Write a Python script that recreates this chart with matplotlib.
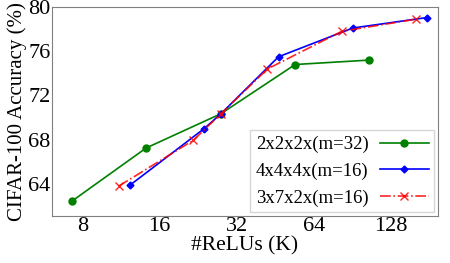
import numpy as np
import matplotlib
matplotlib.use("Agg")
import matplotlib.pyplot as plt

# data (x in K ReLUs, y in %)
relus_222 = [7.3, 14.2, 27.8, 54.1, 105.4]
acc_222 = [62.45, 67.25, 70.35, 74.8, 75.2]

relus_444 = [12.3, 23.9, 27.8, 46.6, 90.8, 177]
acc_444 = [63.9, 69.0, 70.35, 75.5, 78.1, 79.05]

relus_372 = [11.1, 21.7, 27.8, 42.2, 82.2, 160]
acc_372 = [63.8, 67.95, 70.35, 74.4, 77.8, 78.9]

xticks = [8, 16, 32, 64, 128]
yticks = [64, 68, 72, 76, 80]

plt.rcParams['font.family'] = ['Liberation Serif', 'DejaVu Serif']
plt.rcParams['font.size'] = 16

fig = plt.figure(figsize=(4.5, 2.63), dpi=100)
ax = fig.add_axes([52/450, 1 - 216/263, (438-52)/450, (216-7)/263])

ax.plot(relus_222, acc_222, color='green', marker='o', markersize=5, linewidth=1.2,
        label='2x2x2x(m=32)')
ax.plot(relus_444, acc_444, color='blue', marker='D', markersize=3.5, linewidth=1.2,
        label='4x4x4x(m=16)')
ax.plot(relus_372, acc_372, color='red', marker='x', markersize=6, linewidth=1.2,
        linestyle='-.', alpha=0.85, label='3x7x2x(m=16)')

ax.set_xscale('log', base=2)
ax.set_xlim(6.1, 195)
ax.set_ylim(61.1, 80)
ax.set_xticks(xticks)
ax.set_xticklabels([str(t) for t in xticks])
ax.minorticks_off()
ax.set_yticks(yticks)
ax.tick_params(length=0, pad=1, labelsize=16)
for s in ax.spines.values():
    s.set_color('#808080')

ax.set_xlabel('#ReLUs (K)', fontsize=15.5, labelpad=0)
ax.set_ylabel('CIFAR-100 Accuracy (%)', fontsize=15, labelpad=1)

leg = ax.legend(loc='lower right', markerfirst=False, fancybox=False, fontsize=13.5,
                borderaxespad=0.2, handlelength=2.6, labelspacing=0.5,
                borderpad=0.3, handletextpad=0.6)
leg.get_frame().set_edgecolor('#cccccc')

fig.savefig('out.png', dpi=100)
